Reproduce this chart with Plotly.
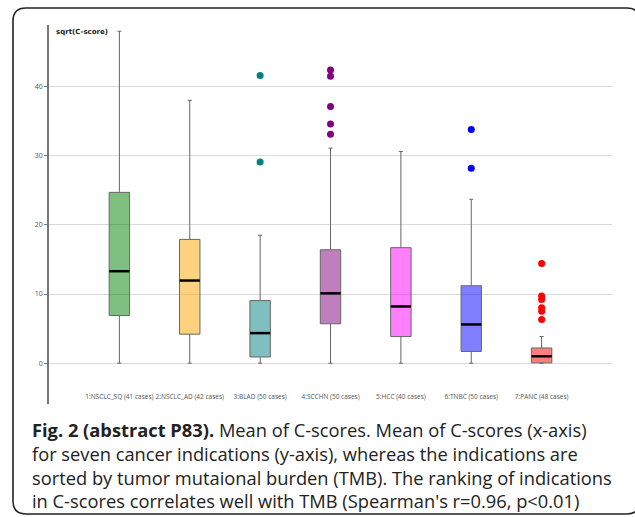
import plotly.graph_objects as go

categories = ["1:NSCLC_SQ (41 cases)", "2:NSCLC_AD (42 cases)", "3:BLAD (50 cases)",
              "4:SCCHN (50 cases)", "5:HCC (40 cases)", "6:TNBC (50 cases)", "7:PANC (48 cases)"]
q1_vals = [6.9, 4.2, 0.9, 5.7, 3.85, 1.7, 0.05]
median_vals = [13.3, 11.95, 4.35, 10.1, 8.2, 5.6, 1.0]
q3_vals = [24.7, 17.9, 9.05, 16.4, 16.7, 11.2, 2.2]
lower_vals = [0.0, 0.0, 0.0, 0.0, 0.0, 0.0, 0.0]
upper_vals = [48.0, 38.0, 18.5, 31.1, 30.6, 23.7, 3.85]
outlier_vals = [[], [], [41.6, 29.1], [42.4, 41.5, 37.1, 34.6, 33.1], [], [33.8, 28.2],
                [14.4, 9.7, 9.2, 8.0, 7.5, 6.3]]
fill_colors = ["rgba(0,128,0,0.5)", "rgba(255,165,0,0.5)", "rgba(0,128,128,0.5)",
               "rgba(128,0,128,0.5)", "rgba(255,0,255,0.5)", "rgba(0,0,255,0.5)",
               "rgba(255,0,0,0.5)"]
point_colors = ["green", "orange", "teal", "purple", "magenta", "blue", "red"]
y_ticks = [0, 10, 20, 30, 40]
caption_lines = [
    "<b>Fig. 2 (abstract P83).</b> Mean of C-scores. Mean of C-scores (x-axis)",
    "for seven cancer indications (y-axis), whereas the indications are",
    "sorted by tumor mutaional burden (TMB). The ranking of indications",
    "in C-scores correlates well with TMB (Spearman's r=0.96, p<0.01)",
]

fig = go.Figure()
for i, cat in enumerate(categories):
    fig.add_trace(go.Box(
        x=[cat], q1=[q1_vals[i]], median=[median_vals[i]], q3=[q3_vals[i]],
        lowerfence=[lower_vals[i]], upperfence=[upper_vals[i]],
        fillcolor=fill_colors[i], line=dict(color="#666666", width=1),
        width=0.29, whiskerwidth=0.2, boxpoints=False, showlegend=False,
        hoverinfo="skip"))
    if outlier_vals[i]:
        fig.add_trace(go.Scatter(
            x=[cat] * len(outlier_vals[i]), y=outlier_vals[i], mode="markers",
            marker=dict(color=point_colors[i], size=7), showlegend=False,
            hoverinfo="skip"))

fig.add_trace(go.Scatter(
    x=categories, y=median_vals, mode="markers",
    marker=dict(symbol="line-ew", size=14.5, line=dict(color="black", width=2.5)),
    showlegend=False, hoverinfo="skip"))

W, H = 635, 517
L, R, T, B = 49, 23, 25, 113
pw, ph = W - L - R, H - T - B

def px(x):
    return (x - L) / pw

def py(y):
    return (H - B - y) / ph

# rounded border path (paper coords)
x0, x1, y0, y1 = px(13), px(640), py(8), py(514)
rx, ry = 13 / pw, 13 / ph
path = (f"M {x0+rx},{y0} L {x1-rx},{y0} Q {x1},{y0} {x1},{y0-ry} "
        f"L {x1},{y1+ry} Q {x1},{y1} {x1-rx},{y1} L {x0+rx},{y1} "
        f"Q {x0},{y1} {x0},{y1+ry} L {x0},{y0-ry} Q {x0},{y0} {x0+rx},{y0} Z")

annotations = [
    dict(text="<b>sqrt(C-score)</b>", xref="paper", yref="paper",
         x=px(54), y=py(32), xanchor="left", yanchor="middle",
         showarrow=False, font=dict(size=7, color="#222", family="DejaVu Sans")),
    dict(text="<br>".join(caption_lines), xref="paper", yref="paper",
         x=px(29.5), y=py(464.5), xanchor="left", yanchor="middle", align="left",
         showarrow=False, font=dict(size=18.3, color="#222", family="Open Sans")),
]

fig.update_layout(
    width=W, height=H,
    margin=dict(l=L, r=R, t=T, b=B),
    plot_bgcolor="white", paper_bgcolor="white",
    font=dict(family="Open Sans", color="#444"),
    shapes=[dict(type="path", xref="paper", yref="paper", path=path,
                 line=dict(color="#222", width=1.6), layer="below")],
    annotations=annotations,
)
fig.update_xaxes(type="category", categoryorder="array", categoryarray=categories,
                 range=[-1, 7], showgrid=False, showline=False, zeroline=False,
                 ticks="", tickfont=dict(size=6.5, color="#555"),
                 ticklabelstandoff=-13, fixedrange=True)
fig.update_yaxes(range=[-5.9, 48.9], tickvals=y_ticks, showgrid=True,
                 gridcolor="#d9d9d9", gridwidth=1, zeroline=False,
                 showline=True, linecolor="#777", linewidth=1.5,
                 ticks="outside", ticklen=3, tickcolor="#777",
                 tickfont=dict(size=7, color="#555"), fixedrange=True)

fig.write_html("out.html", config={"displayModeBar": False},
               post_script="document.body.style.margin='0';")
